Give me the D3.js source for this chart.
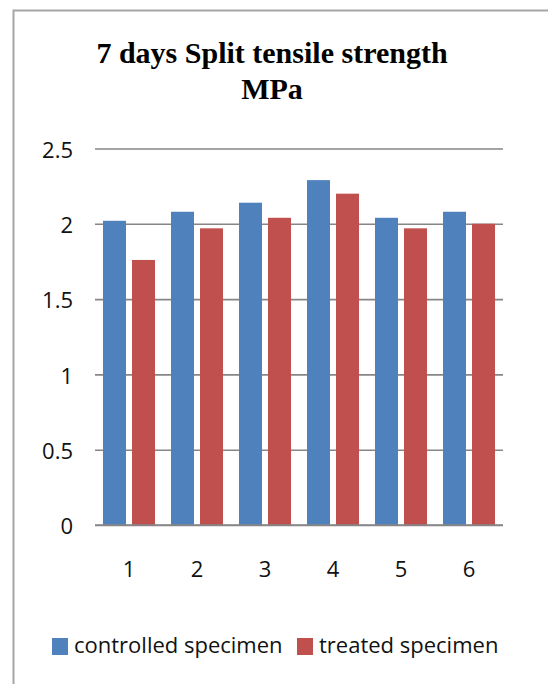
<!DOCTYPE html>
<html>
<head>
<meta charset="utf-8">
<script src="https://cdn.jsdelivr.net/npm/d3@7"></script>
<style>
    body { margin: 0; background: #fff; }
</style>
</head>
<body>
<div id="chart"></div>
<script>
const categories = ["1", "2", "3", "4", "5", "6"];
const seriesNames = ["controlled specimen", "treated specimen"];
const controlled = [2.02, 2.08, 2.14, 2.29, 2.04, 2.08];
const treated = [1.76, 1.97, 2.04, 2.20, 1.97, 2.00];
const yTicks = [0, 0.5, 1, 1.5, 2, 2.5];
const titleLines = ["7 days Split tensile strength", "MPa"];

const colors = d3.scaleOrdinal().domain(seriesNames).range(["#4f81bd", "#c0504d"]);

const width = 548, height = 684;
const svg = d3.select("#chart")
    .append("svg")
    .attr("width", width)
    .attr("height", height);

// frame (only top/left visible in the picture)
svg.append("rect")
    .attr("x", 13.5)
    .attr("y", 10.5)
    .attr("width", 600)
    .attr("height", 700)
    .style("fill", "white")
    .style("stroke", "#a6a6a6")
    .style("stroke-width", 2);

// title
svg.selectAll("text.title")
    .data(titleLines)
    .join("text")
    .attr("class", "title")
    .attr("x", 272)
    .attr("y", (d, i) => 63 + i * 36)
    .attr("text-anchor", "middle")
    .style("font-family", "'Liberation Serif', 'Times New Roman', serif")
    .style("font-weight", "bold")
    .style("font-size", "30px")
    .style("fill", "#000")
    .text(d => d);

const plot = {left: 95, right: 503, top: 148.5, bottom: 525};

const y = d3.scaleLinear()
    .domain([0, 2.5])
    .range([plot.bottom, plot.top]);

const x0 = d3.scaleBand()
    .domain(categories)
    .range([plot.left, plot.right])
    .paddingInner(0.235)
    .paddingOuter(0.1175);

const x1 = d3.scaleBand()
    .domain(seriesNames)
    .range([0, x0.bandwidth()])
    .paddingInner(0.207);

// gridlines
svg.append("g")
    .attr("transform", "translate(" + plot.left + ",0)")
    .call(d3.axisLeft(y).tickValues(yTicks).tickSize(-(plot.right - plot.left)).tickFormat(""))
    .call(g => g.select(".domain").remove())
    .call(g => g.selectAll("line").style("stroke", "#868686").style("stroke-width", 1.6));

// y labels
svg.append("g")
    .attr("transform", "translate(73,0)")
    .call(d3.axisLeft(y).tickValues(yTicks).tickSize(0).tickPadding(0).tickFormat(d => d))
    .call(g => g.select(".domain").remove())
    .call(g => g.selectAll("text")
        .attr("dy", "0.4em")
        .style("font-family", "'Open Sans', sans-serif")
        .style("font-size", "22px")
        .style("fill", "#111"));

const data = categories.map((c, i) => ({cat: c, values: [
    {name: seriesNames[0], value: controlled[i]},
    {name: seriesNames[1], value: treated[i]}
]}));

svg.append("g")
    .selectAll("g")
    .data(data)
    .join("g")
    .attr("transform", d => "translate(" + x0(d.cat) + ",0)")
    .selectAll("rect")
    .data(d => d.values)
    .join("rect")
    .attr("x", d => x1(d.name))
    .attr("y", d => y(d.value))
    .attr("width", x1.bandwidth())
    .attr("height", d => y(0) - y(d.value))
    .style("fill", d => colors(d.name));

// baseline
svg.append("line")
    .attr("x1", plot.left)
    .attr("x2", plot.right)
    .attr("y1", y(0))
    .attr("y2", y(0))
    .style("stroke", "#868686")
    .style("stroke-width", 1.6);

// x labels
svg.append("g")
    .attr("transform", "translate(0," + 561 + ")")
    .call(d3.axisBottom(x0).tickSize(0).tickPadding(0))
    .call(g => g.select(".domain").remove())
    .call(g => g.selectAll("text")
        .style("font-family", "'Open Sans', sans-serif")
        .style("font-size", "22px")
        .style("fill", "#111"));

// legend
const legendX = [52, 297];
const legend = svg.selectAll("g.legend")
    .data(seriesNames)
    .join("g")
    .attr("class", "legend")
    .attr("transform", (d, i) => "translate(" + legendX[i] + ",638)");
legend.append("rect")
    .attr("width", 16)
    .attr("height", 17)
    .style("fill", d => colors(d));
legend.append("text")
    .attr("x", 22)
    .attr("y", 15)
    .style("font-family", "'Open Sans', sans-serif")
    .style("font-size", "22px")
    .style("fill", "#111")
    .text(d => d);
</script>
</body>
</html>
